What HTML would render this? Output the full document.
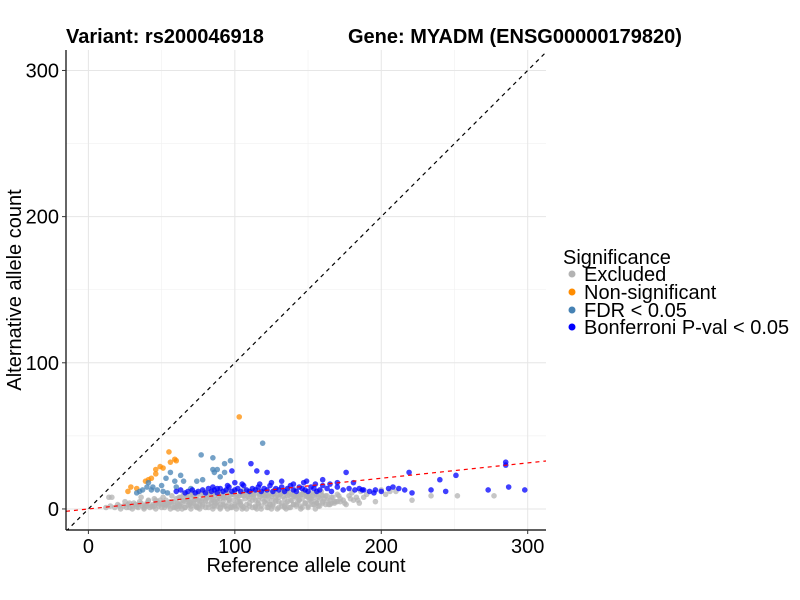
<!DOCTYPE html>
<html><head><meta charset="utf-8"><style>
body{margin:0;background:#fff}
svg{display:block;font-family:"Liberation Sans",Arial,sans-serif}
</style></head><body>
<svg id="chart" width="800" height="600" xmlns="http://www.w3.org/2000/svg">
<rect width="800" height="600" fill="#fff"/>
<text x="66" y="43" font-size="20" font-weight="bold">Variant: rs200046918</text>
<text x="348" y="43" font-size="20" font-weight="bold">Gene: MYADM (ENSG00000179820)</text>
<defs><clipPath id="pc"><rect x="66" y="50" width="480" height="480"/></clipPath></defs>
<g id="grid"></g>
<g id="points" clip-path="url(#pc)"></g>
<g id="refl" clip-path="url(#pc)"></g>
<line x1="66" y1="50" x2="66" y2="530" stroke="#000" stroke-width="1.2"/>
<line x1="66" y1="530" x2="546" y2="530" stroke="#000" stroke-width="1.2"/>
<g id="ticks"></g>
<text x="306" y="572" font-size="20" text-anchor="middle">Reference allele count</text>
<text transform="translate(21,290) rotate(-90)" font-size="20" text-anchor="middle">Alternative allele count</text>
<g>
<text x="563" y="264" font-size="20">Significance</text>
<g><circle cx="572" cy="274" r="3.5" fill="#b3b3b3"/><text x="584" y="281" font-size="20">Excluded</text></g>
<g><circle cx="572" cy="292" r="3.5" fill="#ff8c00"/><text x="584" y="299" font-size="20">Non-significant</text></g>
<g><circle cx="572" cy="310" r="3.5" fill="#4682b4"/><text x="584" y="317" font-size="20">FDR &lt; 0.05</text></g>
<g><circle cx="572" cy="327" r="3.5" fill="#0000ff"/><text x="584" y="334" font-size="20">Bonferroni P-val &lt; 0.05</text></g>
</g>
</svg>
<script>
const xTicks=[0,100,200,300];
const yTicks=[0,100,200,300];
const minorTicks=[50,150,250];
const grayX=[12,15,18,20,22,24,26,28,30,30,16,25,32,34,35,37,38,40,41,42,44,45,46,47,48,50,51,52,53,55,56,57,58,59,60,36,61,61,62,63,64,65,66,67,68,69,70,70,71,72,73,74,75,76,77,78,79,80,80,81,82,83,84,85,86,87,88,89,90,90,91,92,93,94,95,96,97,98,99,100,100,101,102,103,104,105,106,107,108,109,110,111,112,113,114,115,116,117,118,119,120,121,122,123,124,125,126,127,128,129,130,131,132,133,134,135,136,137,138,139,140,141,142,143,144,145,146,147,148,149,150,151,152,153,154,155,156,157,158,159,160,162,163,165,166,168,170,172,175,178,180,183,186,190,196,200,203,206,210,221,234,252,277,14,43,49,54,62,66,70,74,78,82,86,90,94,98,102,106,110,114,118,122,126,130,134,138,142,146,150,68,72,76,84,88,92,96,104,108,112,116,120,124,128,132,136,140,144,148,152,156,160,64,58,52,46,40,34,28,95,115,135,145,155,125,105,85,75,
 33,39,44,48,53,57,61,65,69,73,77,81,85,89,93,97,101,105,109,113,117,121,125,129,133,137,141,145,149,153,157,161,165,169,
 36,41,46,51,56,60,64,68,72,76,80,84,88,92,96,100,104,108,112,116,120,124,128,132,136,140,144,148,152,156,160,164,168,172,176,181,185,
 63,67,71,75,79,83,87,91,95,99,103,107,111,115,119,123,127,131,135,139,143,147,151,155,159,163,167,171,
 21,27,31,38,45,50,55,59,62,66,70,74,78,82,86,90,94,98,102,106,110,114,118,122,126,130,134,138,142,146,150,154,158,162,166,170,174,179,184,188,193,198];
const grayY=[1,2,1,3,0,2,1,4,2,0,8,5,3,1,5,2,0,4,6,1,3,7,0,5,2,4,8,1,6,3,0,9,5,2,7,8,0,4,8,2,6,10,1,5,9,3,7,0,11,4,2,8,6,0,10,3,12,5,1,8,3,11,6,0,9,4,2,12,7,0,10,5,2,8,13,4,1,10,6,3,12,0,8,5,11,2,13,7,0,10,4,12,1,8,6,13,3,10,0,7,12,4,9,1,11,6,3,13,8,0,5,10,2,12,7,4,9,1,11,6,3,13,8,5,10,2,7,12,4,9,1,6,11,3,8,5,10,2,7,12,4,9,6,3,8,5,10,7,4,9,11,8,12,10,5,13,10,12,12,6,9,9,9,8,2,6,4,3,7,4,2,7,10,5,3,11,2,5,9,7,2,11,6,10,8,1,6,3,10,8,6,9,5,9,7,8,7,3,12,10,6,9,3,5,11,13,9,6,11,7,4,9,0,1,3,4,2,3,1,0,0,0,0,0,0,0,2,1,
 1.5,2.5,1.5,3.5,2.5,4.5,3.5,5.5,4.5,6.5,5.5,7.5,6.5,8.5,7.5,9.5,8.5,9.5,8.5,9.5,8.5,9.5,8.5,9.5,8.5,9.5,8.5,9.5,8.5,9,8,7,6,5,
 4,5.5,6,3,5,1.5,3.5,2.5,5.5,3,6,4,5,3,6,2,5,3,6,4,5,3,6,4,5,3,6,4,5,4,5,3,4,5,3,6,4,
 8,9,10,11,10,9,11,10,11,10,9,11,10,11,10,9,11,10,11,10,9,11,10,11,10,9,8,9,
 2,3,4,1,2,1,2,1,2,1,2,1,2,1,2,1,2,1,2,1,2,1,2,1,2,1,2,1,2,1,2,3,2,3,4,5,6,7,6,8];
const orangeX=[103,55,59,60,56,49,51,46,46,41,43,39,33,29,27];
const orangeY=[63,39,34,33,32,29,28,27,24,20,21,19,14,15,12];
const fdrX=[119,77,85,93,97,85,88,86,93,74,78,63,59,65,56,53,40,37,43,44,41,51,54,47,35,50,60,70,90,33];
const fdrY=[45,37,35,31,33,27,27,25,25,19,20,23,19,19,25,21,15,13,13,15,18,12,11,13,12,16,15,14,22,11];
const bonfX=[60,63,66,68,71,73,75,78,80,82,84,86,88,90,92,94,96,98,100,102,104,106,108,110,112,114,116,118,120,122,124,126,128,130,132,134,136,138,140,142,144,146,148,150,152,154,156,158,160,163,166,170,174,178,182,185,188,192,196,200,205,208,212,216,221,219,111,115,98,122,176,251,240,285,285,287,273,298,244,234,132,149,147,165,181,187,195,160,140,100,95,105,125,85,88,117,155,170];
const bonfY=[12,13,11,12,13,11,12,13,11,14,12,13,11,14,12,13,15,12,13,14,12,16,13,12,14,13,15,12,14,13,16,12,14,13,15,12,14,16,13,12,15,14,13,12,15,14,12,13,16,14,12,15,13,14,13,14,13,12,13,12,14,15,14,13,11,25,31,26,26,25,25,23,20,32,30,15,13,13,12,13,19,19,18,17,18,13,11,20,17,18,16,17,18,15,14,17,17,18];
const lineSlope=[0.105];

const NS='http://www.w3.org/2000/svg';
const X0=66,X1=546,Y0=530,Y1=50,XMIN=-15.3,XMAX=312.5,YMIN=-14.4,YMAX=314;
function sx(v){return X0+(v-XMIN)/(XMAX-XMIN)*(X1-X0);}
function sy(v){return Y0-(v-YMIN)/(YMAX-YMIN)*(Y0-Y1);}
function mk(tag,attrs,parent){const e=document.createElementNS(NS,tag);for(const k in attrs)e.setAttribute(k,attrs[k]);parent.appendChild(e);return e;}
const grid=document.getElementById('grid'),pts=document.getElementById('points'),refl=document.getElementById('refl'),ticks=document.getElementById('ticks');
minorTicks.forEach(v=>{
 const a=mk('line',{x1:sx(v),x2:sx(v),y1:Y1,y2:Y0,stroke:'#f2f2f2','stroke-width':0.7},grid);
 
 
 const b=mk('line',{x1:X0,x2:X1,y1:sy(v),y2:sy(v),stroke:'#f2f2f2','stroke-width':0.7},grid);
 
 
});
xTicks.forEach(v=>{
 const g=mk('line',{x1:sx(v),x2:sx(v),y1:Y1,y2:Y0,stroke:'#e6e6e6','stroke-width':1},grid);
 
 
 const t=mk('line',{x1:sx(v),x2:sx(v),y1:Y0,y2:Y0+4,stroke:'#333'},ticks);
 
 
 const l=mk('text',{x:sx(v),y:Y0+23,'font-size':20,'text-anchor':'middle',fill:'#000'},ticks);
 l.textContent=v;
 
 
});
yTicks.forEach(v=>{
 const g=mk('line',{x1:X0,x2:X1,y1:sy(v),y2:sy(v),stroke:'#e6e6e6','stroke-width':1},grid);
 
 
 const t=mk('line',{x1:X0-4,x2:X0,y1:sy(v),y2:sy(v),stroke:'#333'},ticks);
 
 
 const l=mk('text',{x:X0-7,y:sy(v)+7,'font-size':20,'text-anchor':'end',fill:'#000'},ticks);
 l.textContent=v;
 
 
});
function series(xs,ys,col,name){
 xs.forEach((x,i)=>{
  const c=mk('circle',{cx:sx(x),cy:sy(ys[i]),r:2.8,fill:col,'fill-opacity':0.75},pts);
  
  
 });
}
series(grayX,grayY,'#b3b3b3','point-excluded');
series(orangeX,orangeY,'#ff8c00','point-non-significant');
series(fdrX,fdrY,'#4682b4','point-fdr');
series(bonfX,bonfY,'#0000ff','point-bonferroni');
const d=mk('line',{x1:sx(XMIN),y1:sy(XMIN),x2:sx(YMAX),y2:sy(YMAX),stroke:'#000','stroke-width':1.2,'stroke-dasharray':'4,4'},refl);


const r=mk('line',{x1:sx(XMIN),y1:sy(XMIN*lineSlope[0]),x2:sx(XMAX),y2:sy(XMAX*lineSlope[0]),stroke:'#ff0000','stroke-width':1.2,'stroke-dasharray':'4,4'},refl);


</script>
</body></html>
